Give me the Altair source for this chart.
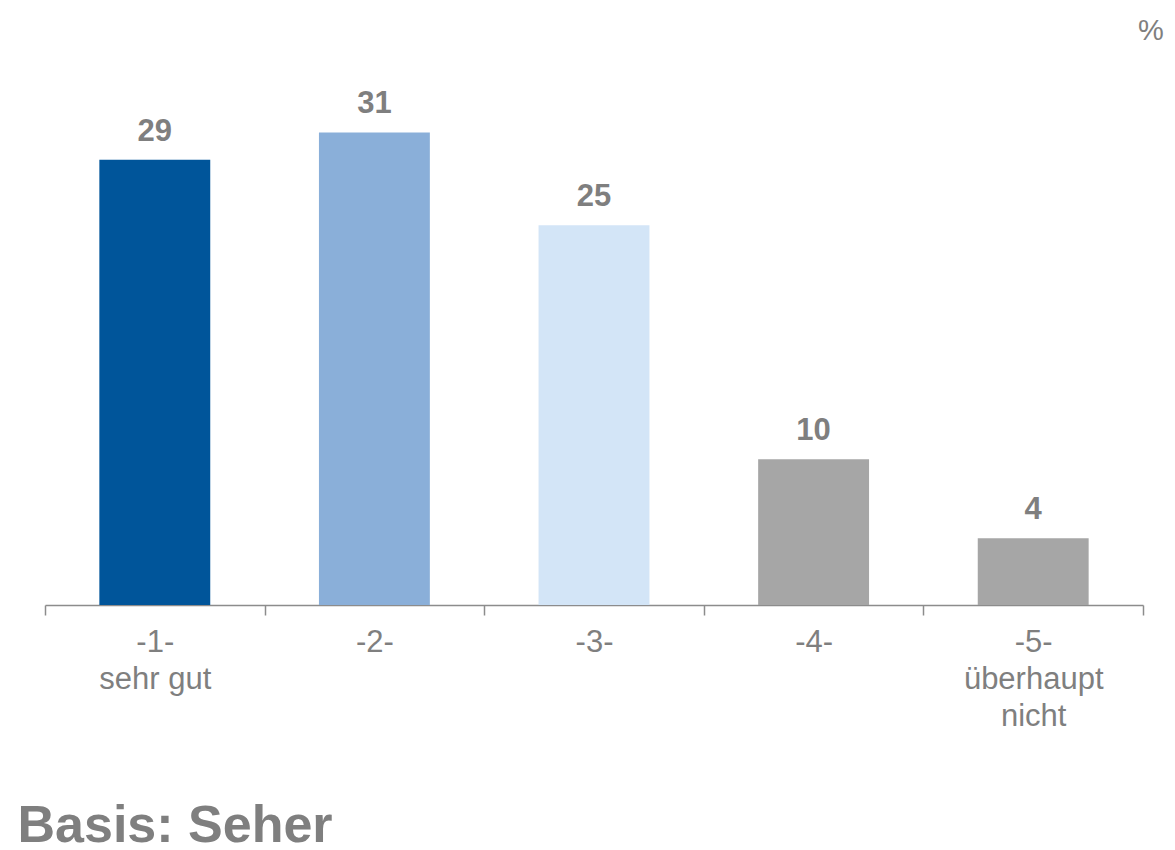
import altair as alt
import pandas as pd

codes = ["-1-", "-2-", "-3-", "-4-", "-5-"]
subtitles = ["sehr gut", "", "", "", "überhaupt|nicht"]
values = [29.3, 31.1, 25.0, 9.6, 4.4]
shown = [29, 31, 25, 10, 4]
colors = ["#00559A", "#8AAFD9", "#D3E5F7", "#A6A6A6", "#A6A6A6"]

cats = [c + ("|" + s if s else "") for c, s in zip(codes, subtitles)]
df = pd.DataFrame({"cat": cats, "value": values, "shown": shown, "color": colors})

x = alt.X(
    "cat:N",
    sort=cats,
    scale=alt.Scale(paddingInner=0, paddingOuter=0),
    axis=alt.Axis(
        title="Basis: Seher",
        titleFont="Liberation Sans",
        titleFontSize=52,
        titleFontWeight="bold",
        titleColor="#7F7F7F",
        titleAnchor="start",
        titleAlign="left",
        titleBaseline="alphabetic",
        titleX=-28,
        titleY=236,
        labelExpr="split(datum.label, '|')",
        labelAngle=0,
        labelFont="Liberation Sans",
        labelFontSize=31,
        labelLineHeight=37,
        labelColor="#7F7F7F",
        labelPadding=12,
        labelBaseline="top",
        tickBand="extent",
        tickSize=10,
        tickColor="#8C8C8C",
        tickWidth=1.5,
        domainColor="#8C8C8C",
        domainWidth=1.5,
        grid=False,
    ),
)
y = alt.Y("value:Q", scale=alt.Scale(domain=[0, 36]), axis=None)

bars = alt.Chart(df).mark_bar(width={"band": 0.505}).encode(
    x=x, y=y, color=alt.Color("color:N", scale=None)
)
labels = alt.Chart(df).mark_text(
    font="Liberation Sans",
    fontSize=31,
    fontWeight="bold",
    color="#7F7F7F",
    baseline="alphabetic",
    dy=-19,
).encode(x=x, y=y, text="shown:Q")

chart = (
    alt.layer(bars, labels)
    .properties(
        width=1098,
        height=547,
        view=alt.ViewBackground(strokeWidth=0, stroke="transparent"),
        title=alt.TitleParams(
            "%",
            anchor="end",
            align="right",
            font="Liberation Sans",
            fontSize=29,
            fontWeight="normal",
            color="#7F7F7F",
            baseline="middle",
            offset=28,
            dx=20,
            dy=30,
        ),
        autosize=alt.AutoSizeParams(type="none"),
        padding={"left": 45, "top": 58, "right": 32, "bottom": 245},
    )
    .configure_view(strokeWidth=0)
    .configure(background="white")
)

chart.save("out.html", embed_options={"renderer": "svg", "actions": False})
